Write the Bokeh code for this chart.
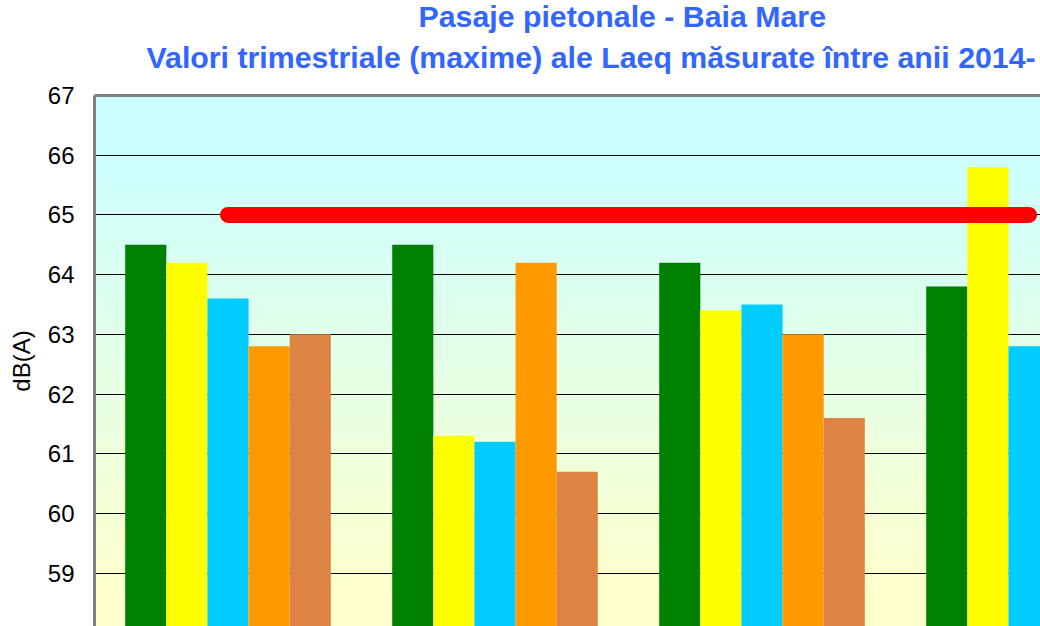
import numpy as np
from bokeh.plotting import figure
from bokeh.models import (Range1d, SingleIntervalTicker, FixedTicker, Title, LinearAxis,
                          ColumnDataSource)
from bokeh.transform import dodge
from bokeh.embed import file_html
from bokeh.resources import INLINE

# ---- data ----
quarters = ["Trim. I", "Trim. II", "Trim. III", "Trim. IV"]
years = ["2014", "2015", "2016", "2017", "2018"]
v2014 = [64.5, 64.5, 64.2, 63.8]
v2015 = [64.2, 61.3, 63.4, 65.8]
v2016 = [63.6, 61.2, 63.5, 62.8]
v2017 = [62.8, 64.2, 63.0, float("nan")]   # 4th value outside the visible crop
v2018 = [63.0, 60.7, 61.6, float("nan")]   # 4th value outside the visible crop
limit = 65.0
colors = ["#008000", "#FFFF00", "#00CCFF", "#FF9900", "#DD8444"]

title1 = "Pasaje pietonale - Baia Mare"
title2 = "Valori trimestriale (maxime) ale Laeq măsurate între anii 2014-"
ylabel = "dB(A)"

FONT = "Liberation Sans"

series = [v2014, v2015, v2016, v2017, v2018]
xc = np.arange(len(quarters)) + 0.5
src = ColumnDataSource(dict(x=xc, **{y: s for y, s in zip(years, series)}))

y_lo, y_hi = 58.106, 67.0
x_lo, x_hi = 0.0, 3.543

p = figure(width=1040, height=626, output_backend="svg", toolbar_location=None,
           title=None, x_range=Range1d(x_lo, x_hi), y_range=Range1d(y_lo, y_hi),
           x_axis_location=None, min_border_left=94, min_border_right=0,
           min_border_bottom=0, min_border_top=95,
           background_fill_color="white", border_fill_color="white",
           outline_line_color=None)

# gradient plot-area background
N = 256
yy = np.linspace(y_lo, y_hi, N)
t = np.clip((yy - 58.6) / (66.0 - 58.6), 0, 1)
img = np.empty((N, 1), dtype=np.uint32)
view = img.view(dtype=np.uint8).reshape((N, 1, 4))
view[:, 0, 0] = (255 - 51 * t).astype(np.uint8)
view[:, 0, 1] = 255
view[:, 0, 2] = (204 + 51 * t).astype(np.uint8)
view[:, 0, 3] = 255
bg = p.image_rgba(image=[img], x=x_lo, y=y_lo, dw=x_hi - x_lo, dh=y_hi - y_lo)
bg.level = "image"

# bars
bw = 0.154
for j, (yr, col) in enumerate(zip(years, colors)):
    p.vbar(x=dodge("x", (j - 2) * bw, range=p.x_range), top=yr, bottom=y_lo - 1,
           width=bw, source=src, fill_color=col, line_color=None)

# limit line
p.line(x=[xc[0], xc[-1]], y=[limit, limit], line_color="#FF0000",
       line_width=16, line_cap="round")

# axes / grid
p.yaxis.ticker = SingleIntervalTicker(interval=1)
p.yaxis.axis_label = ylabel
p.yaxis.axis_label_text_font = FONT
p.yaxis.axis_label_text_font_size = "24px"
p.yaxis.axis_label_text_font_style = "normal"
p.yaxis.axis_label_text_color = "black"
p.yaxis.axis_label_standoff = 10
p.yaxis.major_label_text_font = FONT
p.yaxis.major_label_text_font_size = "24px"
p.yaxis.major_label_text_color = "black"
p.yaxis.major_label_standoff = 20
p.yaxis.major_tick_in = 0
p.yaxis.major_tick_out = 0
p.yaxis.minor_tick_in = 0
p.yaxis.minor_tick_out = 0
p.yaxis.axis_line_color = "#808080"
p.yaxis.axis_line_width = 3
p.ygrid.grid_line_color = "black"
p.ygrid.grid_line_width = 1
p.xgrid.grid_line_color = None

# top border of the plot area (tick-less axis)
top_axis = LinearAxis(ticker=FixedTicker(ticks=[], minor_ticks=[]),
                      axis_line_color="#808080", axis_line_width=3,
                      major_tick_in=0, major_tick_out=0,
                      minor_tick_in=0, minor_tick_out=0)
p.add_layout(top_axis, "above")

# titles
t2 = Title(text=title2, align="left", offset=52, text_font=FONT, text_font_size="30.3px",
           text_font_style="bold", text_color="#3366FF", standoff=44)
p.add_layout(t2, "above")
t1 = Title(text=title1, align="left", offset=324, text_font=FONT, text_font_size="30.3px",
           text_font_style="bold", text_color="#3366FF", standoff=-33)
p.add_layout(t1, "above")

open("out.html", "w").write(file_html(p, INLINE))
